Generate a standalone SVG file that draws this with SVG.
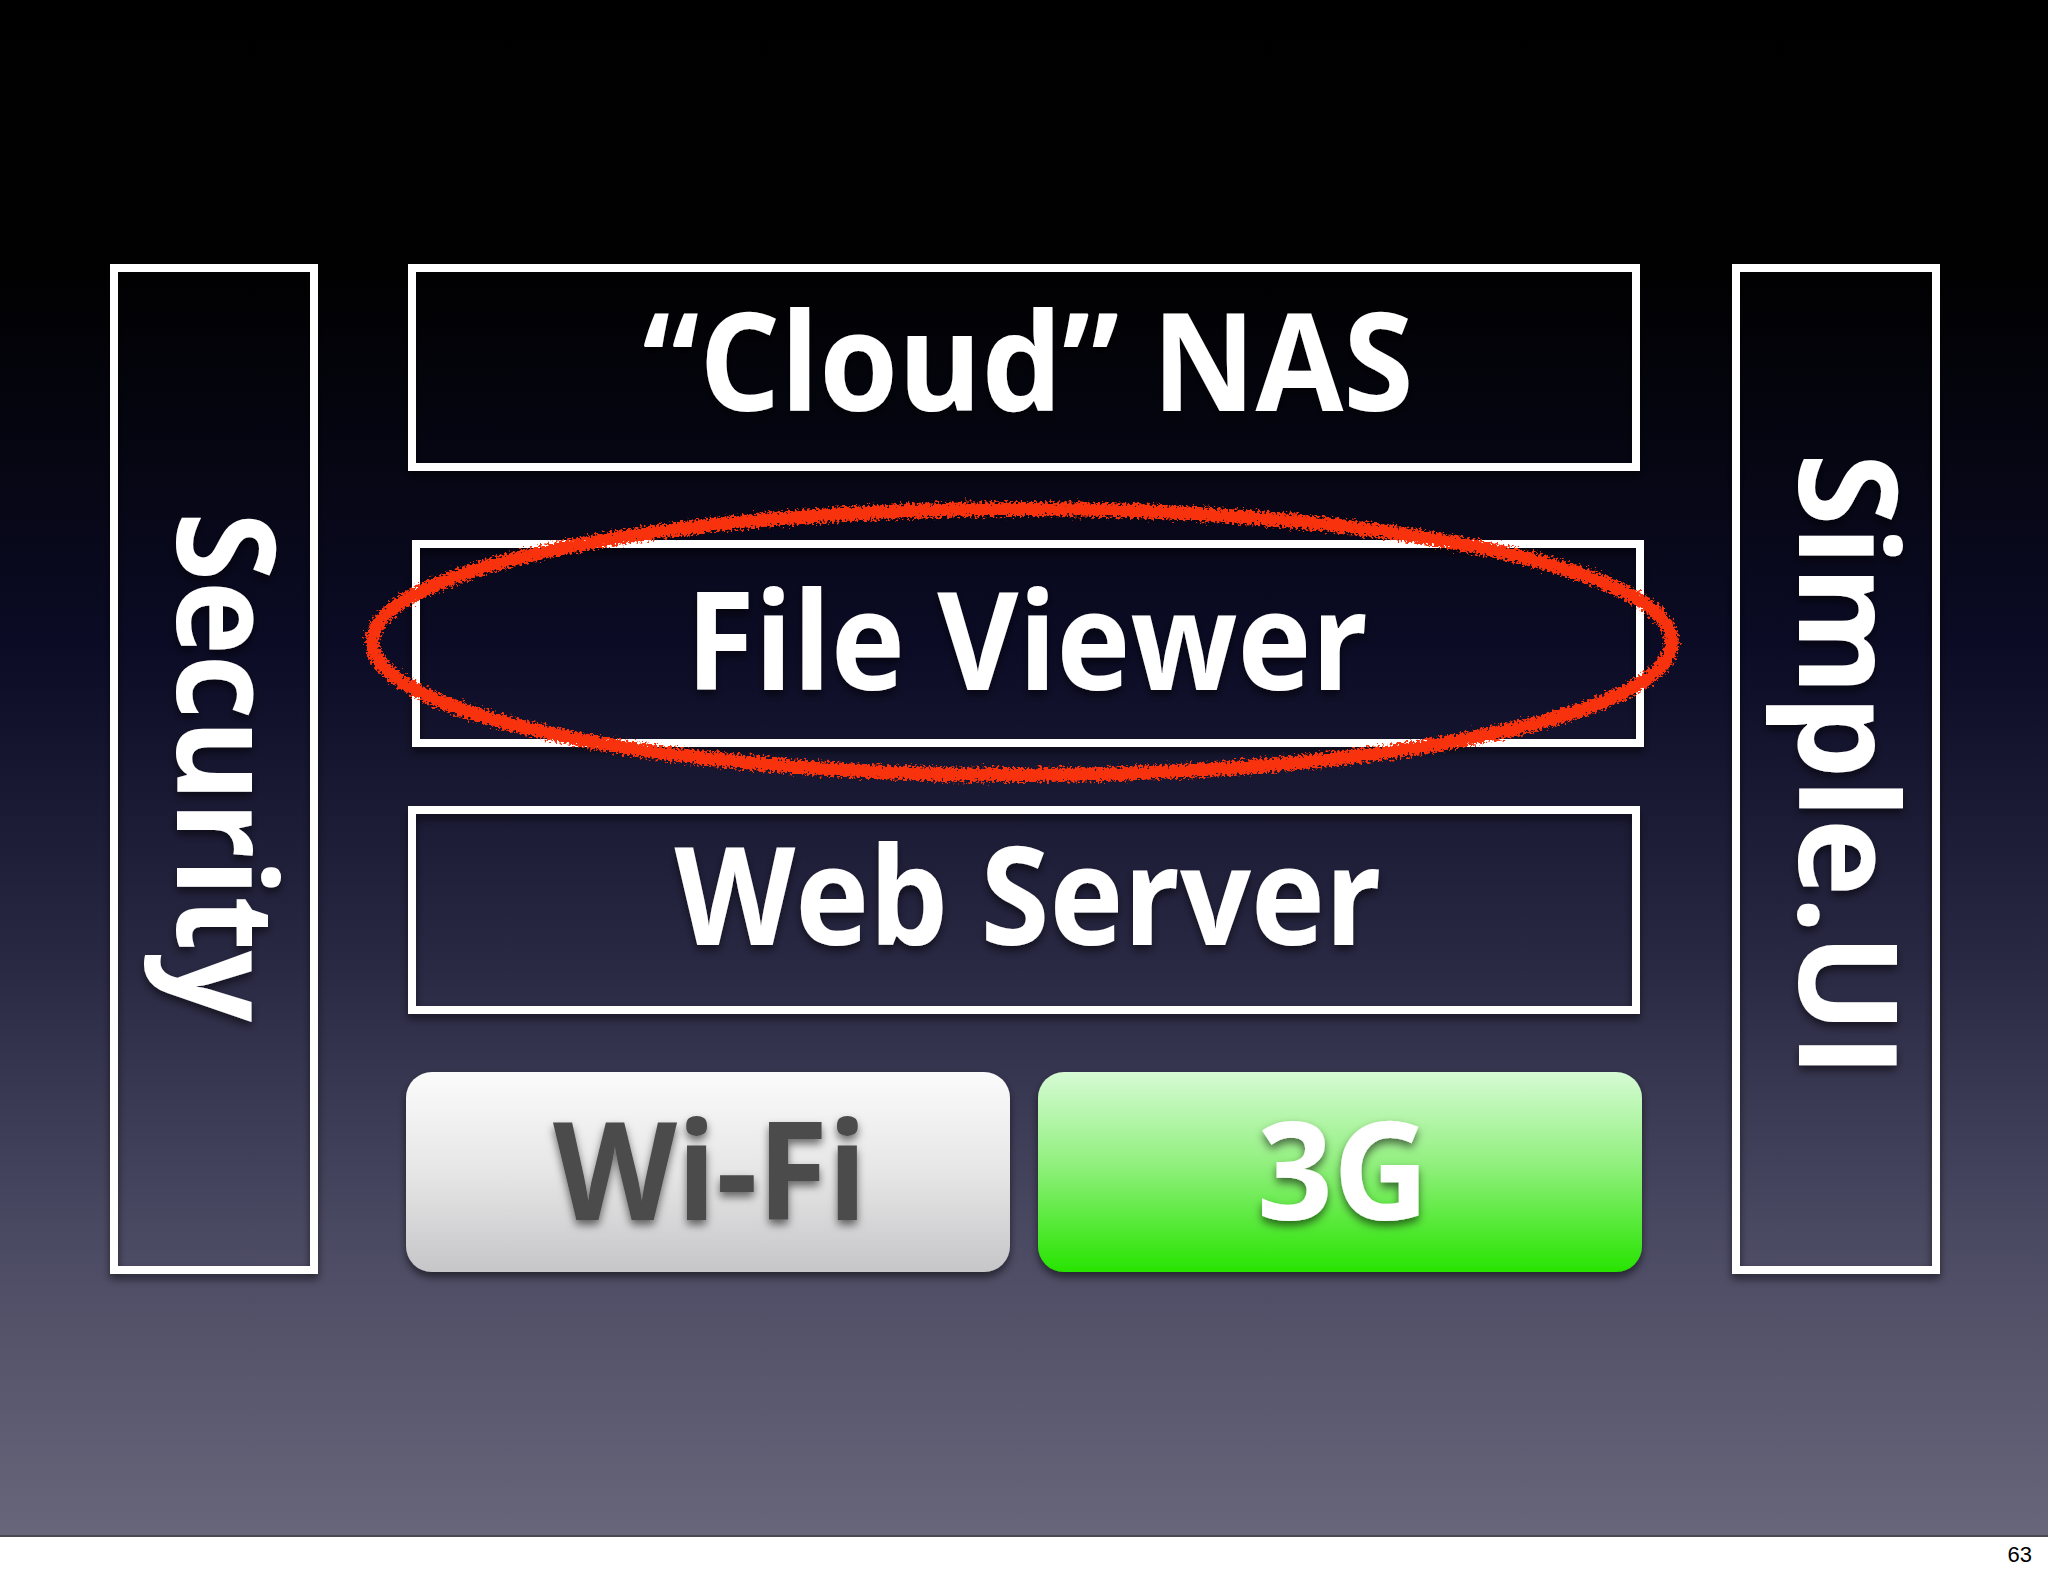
<svg xmlns="http://www.w3.org/2000/svg" width="2048" height="1576" viewBox="0 0 2048 1576">
  <defs>
    <linearGradient id="bg" x1="0" y1="0" x2="0" y2="1536" gradientUnits="userSpaceOnUse">
      <stop offset="0" stop-color="#000000"/>
      <stop offset="0.18" stop-color="#010102"/>
      <stop offset="0.42" stop-color="#0b0b25"/>
      <stop offset="0.63" stop-color="#2a2944"/>
      <stop offset="0.8" stop-color="#4a4962"/>
      <stop offset="1" stop-color="#67667a"/>
    </linearGradient>
    <linearGradient id="wifi" x1="0" y1="0" x2="0" y2="1">
      <stop offset="0" stop-color="#fbfbfb"/>
      <stop offset="0.5" stop-color="#e6e6e6"/>
      <stop offset="1" stop-color="#c6c6c9"/>
    </linearGradient>
    <linearGradient id="g3" x1="0" y1="0" x2="0" y2="1">
      <stop offset="0" stop-color="#d6fbd4"/>
      <stop offset="0.45" stop-color="#93f080"/>
      <stop offset="1" stop-color="#27e400"/>
    </linearGradient>
    <filter id="shadow" x="-10%" y="-10%" width="120%" height="130%">
      <feDropShadow dx="0" dy="5" stdDeviation="4" flood-color="#000" flood-opacity="0.55"/>
    </filter>
    <filter id="rough" x="-5%" y="-15%" width="110%" height="130%">
      <feTurbulence type="fractalNoise" baseFrequency="0.4" numOctaves="3" seed="4" result="n"/>
      <feDisplacementMap in="SourceGraphic" in2="n" scale="12" xChannelSelector="R" yChannelSelector="G"/>
    </filter>
    <style>
      .box { fill: none; stroke: #ffffff; stroke-width: 8; }
      .lbl { font-family: "Open Sans", "Liberation Sans", sans-serif; font-weight: 700; font-size: 136px; fill: #ffffff; text-anchor: middle; }
      .btn { font-family: "Open Sans", "Liberation Sans", sans-serif; font-weight: 700; font-size: 136px; text-anchor: middle; }
    </style>
  </defs>

  <rect x="0" y="0" width="2048" height="1576" fill="#ffffff"/>
  <rect x="0" y="0" width="2048" height="1536" fill="url(#bg)"/>
  <line x1="0" y1="1536" x2="2048" y2="1536" stroke="#4a4a55" stroke-width="2"/>

  <g id="security" filter="url(#shadow)">
    <rect class="box" x="114" y="268" width="200" height="1002"/>
    <text class="lbl" transform="translate(177,767) rotate(90)" textLength="510" lengthAdjust="spacingAndGlyphs">Security</text>
  </g>

  <g id="cloud-nas" filter="url(#shadow)">
    <rect class="box" x="412" y="268" width="1224" height="199"/>
    <text class="lbl" x="1028" y="411" textLength="771" lengthAdjust="spacingAndGlyphs">“Cloud” NAS</text>
  </g>

  <g id="file-viewer" filter="url(#shadow)">
    <rect class="box" x="416" y="544" width="1224" height="199"/>
    <text class="lbl" x="1027" y="690" textLength="682" lengthAdjust="spacingAndGlyphs">File Viewer</text>
  </g>

  <g id="web-server" filter="url(#shadow)">
    <rect class="box" x="412" y="810" width="1224" height="200"/>
    <text class="lbl" x="1028" y="945" textLength="707" lengthAdjust="spacingAndGlyphs">Web Server</text>
  </g>

  <g id="wifi-btn">
    <rect x="406" y="1072" width="604" height="200" rx="26" fill="url(#wifi)" filter="url(#shadow)"/>
    <text class="btn" x="710" y="1220" fill="#4b4b4b" textLength="314" lengthAdjust="spacingAndGlyphs" filter="url(#shadow)">Wi-Fi</text>
  </g>

  <g id="g3-btn">
    <rect x="1038" y="1072" width="604" height="200" rx="26" fill="url(#g3)" filter="url(#shadow)"/>
    <text class="btn" x="1343" y="1220" fill="#ffffff" textLength="172" lengthAdjust="spacingAndGlyphs" filter="url(#shadow)">3G</text>
  </g>

  <g id="simple-ui" filter="url(#shadow)">
    <rect class="box" x="1736" y="268" width="200" height="1002"/>
    <text class="lbl" transform="translate(1799,765) rotate(90)" textLength="624" lengthAdjust="spacingAndGlyphs">Simple.UI</text>
  </g>

  <g id="highlight">
    <ellipse cx="1022" cy="642" rx="650" ry="133" fill="none" stroke="#f8300c" stroke-width="14" filter="url(#rough)"/>
  </g>

  <g id="connectors"></g>

  <text x="2032" y="1562" font-family="Liberation Sans, Arial, sans-serif" font-size="22" fill="#000000" text-anchor="end">63</text>
</svg>
